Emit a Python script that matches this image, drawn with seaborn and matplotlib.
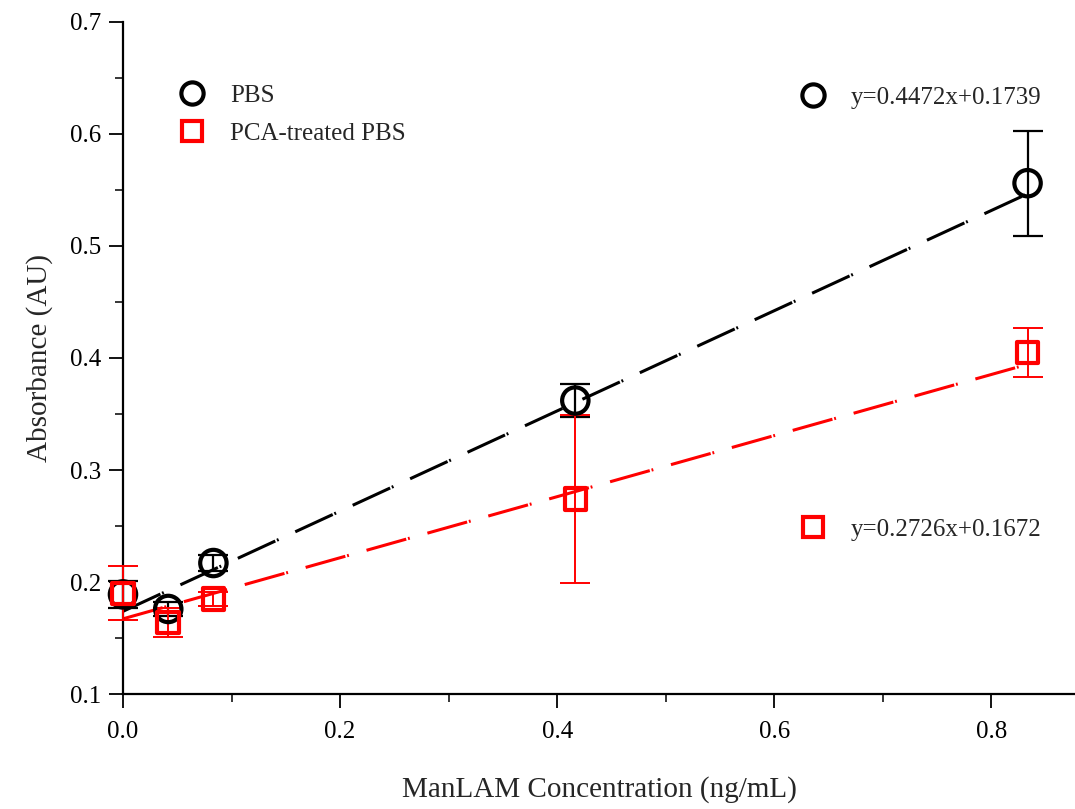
import numpy as np
import pandas as pd
import matplotlib
matplotlib.use("Agg")
import matplotlib.pyplot as plt
import seaborn as sns
from matplotlib.lines import Line2D

conc = [0.0, 0.0417, 0.0833, 0.4167, 0.8333]
pbs_mean = [0.189, 0.176, 0.217, 0.362, 0.556]
pbs_err = [0.012, 0.006, 0.007, 0.015, 0.047]
pca_mean = [0.190, 0.164, 0.185, 0.274, 0.405]
pca_err = [0.024, 0.013, 0.006, 0.075, 0.022]
pbs_fit = (0.4472, 0.1739)
pca_fit = (0.2726, 0.1672)
series_names = ["PBS", "PCA-treated PBS"]
eq_labels = ["y=0.4472x+0.1739", "y=0.2726x+0.1672"]

sns.set_theme(style="ticks")
plt.rcParams['font.family'] = ['Liberation Serif', 'DejaVu Serif']

fig = plt.figure(figsize=(10.75, 8.09), dpi=100)
ax = fig.add_axes([0.1144, 0.142, 0.8856, 0.831])

df = pd.DataFrame({
    "conc": conc * 2,
    "abs": pbs_mean + pca_mean,
    "err": pbs_err + pca_err,
    "series": [series_names[0]] * 5 + [series_names[1]] * 5,
})

colors = {series_names[0]: "black", series_names[1]: "red"}
markers = {series_names[0]: "o", series_names[1]: "s"}
msize = {series_names[0]: 19, series_names[1]: 15.5}

# fit lines
xfit = np.array([min(conc), max(conc)])
for name, (m, b) in zip(series_names, [pbs_fit, pca_fit]):
    fit_df = pd.DataFrame({"x": xfit, "y": m * xfit + b})
    sns.lineplot(data=fit_df, x="x", y="y", ax=ax, color=colors[name],
                 linewidth=2.2, linestyle=(0, (13.5, 0.6, 0.6, 6.0)), zorder=2)

# error bars
for name, ew in zip(series_names, [1.6, 1.4]):
    sub = df[df.series == name]
    eb = ax.errorbar(sub["conc"], sub["abs"], yerr=sub["err"], fmt="none",
                     ecolor=colors[name], elinewidth=ew, capsize=11, capthick=ew, zorder=3)
    for art in eb.lines[1] + eb.lines[2]:
        art.set_clip_on(False)

# markers
for name in series_names:
    sub = df[df.series == name]
    sns.scatterplot(data=sub, x="conc", y="abs", ax=ax, marker=markers[name],
                    s=msize[name] ** 2, facecolor="none", edgecolor=colors[name],
                    linewidth=3.0, zorder=4, legend=False)
for coll in ax.collections:
    coll.set_clip_on(False)

ax.set_xlim(0, 0.877)
ax.set_ylim(0.1, 0.7)
ax.set_xticks([0.0, 0.2, 0.4, 0.6, 0.8])
ax.set_xticks([0.1, 0.3, 0.5, 0.7], minor=True)
ax.set_yticks([0.1, 0.2, 0.3, 0.4, 0.5, 0.6, 0.7])
ax.set_yticks(np.arange(0.15, 0.7, 0.1), minor=True)
ax.xaxis.set_major_formatter(matplotlib.ticker.FormatStrFormatter("%.1f"))
ax.yaxis.set_major_formatter(matplotlib.ticker.FormatStrFormatter("%.1f"))
ax.tick_params(axis="both", which="major", direction="out", length=10, width=1.3,
               labelsize=18, colors="black", pad=9)
ax.tick_params(axis="both", which="minor", direction="out", length=6, width=1.3)
ax.tick_params(axis="y", pad=6)
for side in ["top", "right"]:
    ax.spines[side].set_visible(False)
for side in ["left", "bottom"]:
    ax.spines[side].set_linewidth(1.6)
    ax.spines[side].set_color("black")

ax.set_xlabel("ManLAM Concentration (ng/mL)", fontsize=21, labelpad=24)
ax.set_ylabel("Absorbance (AU)", fontsize=21, labelpad=12)

def handle(name, ms):
    return Line2D([], [], linestyle="none", marker=markers[name], markersize=ms,
                  markerfacecolor="none", markeredgecolor=colors[name], markeredgewidth=3.0)

leg1 = ax.legend([handle(series_names[0], 16), handle(series_names[1], 14)], series_names,
                 loc="upper left", bbox_to_anchor=(0.031, 0.941), frameon=False,
                 fontsize=18, handletextpad=0.8, labelspacing=0.62, handlelength=1.4)
ax.add_artist(leg1)
leg2 = ax.legend([handle(series_names[0], 16)], [eq_labels[0]],
                 loc="upper left", bbox_to_anchor=(0.683, 0.937), frameon=False,
                 fontsize=18, handletextpad=0.8, handlelength=1.4)
ax.add_artist(leg2)
leg3 = ax.legend([handle(series_names[1], 14)], [eq_labels[1]],
                 loc="upper left", bbox_to_anchor=(0.683, 0.295), frameon=False,
                 fontsize=18, handletextpad=0.8, handlelength=1.4)

fig.savefig("out.png", dpi=100)
